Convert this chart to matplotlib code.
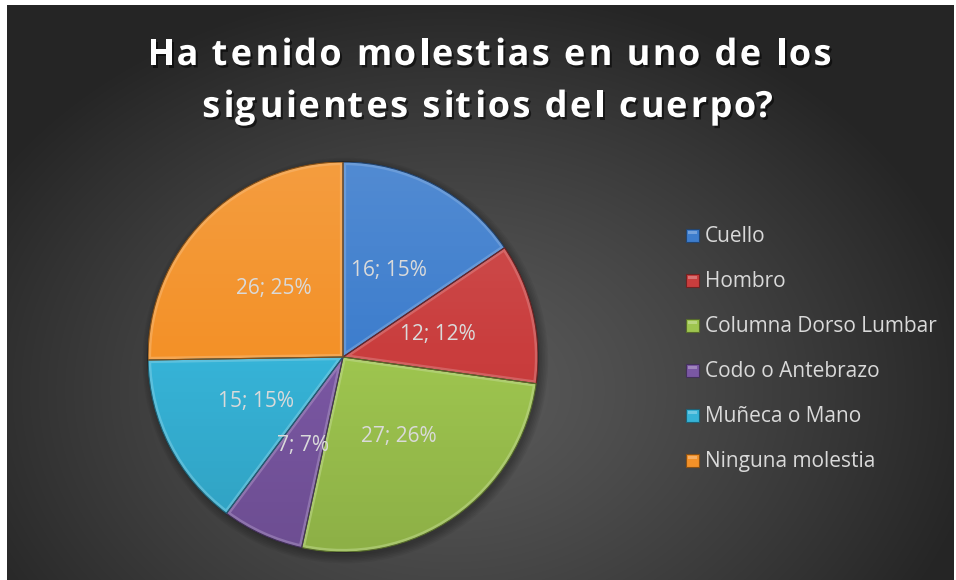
import numpy as np
import matplotlib
matplotlib.use("Agg")
import matplotlib.pyplot as plt
from matplotlib.patches import Wedge, Rectangle, Circle
import matplotlib.patheffects as pe
import matplotlib.colors as mcolors
from matplotlib.font_manager import FontProperties, findfont
from matplotlib.ft2font import FT2Font

# ---------------- data ----------------
title_lines = ["Ha tenido molestias en uno de los", "siguientes sitios del cuerpo?"]
categories = ["Cuello", "Hombro", "Columna Dorso Lumbar", "Codo o Antebrazo",
              "Muñeca o Mano", "Ninguna molestia"]
values = [16, 12, 27, 7, 15, 26]
percent_labels = [15, 12, 26, 7, 15, 25]
colors = ["#3d7dcd", "#c93d3d", "#9ec54f", "#7a57a3", "#36b3d7", "#f39128"]

FONT = "Open Sans"
W, H = 956, 580
fig = plt.figure(figsize=(W / 100, H / 100), dpi=100, facecolor="white")


def shade(c, f):
    r, g, b = mcolors.to_rgb(c)
    if f >= 0:
        return (r + (1 - r) * f, g + (1 - g) * f, b + (1 - b) * f)
    return (r * (1 + f), g * (1 + f), b * (1 + f))


# ---------------- background ----------------
x0, x1, y0, y1 = 7, 954, 5, 580
bg = fig.add_axes([x0 / W, (H - y1) / H, (x1 - x0) / W, (y1 - y0) / H])
bg.set_axis_off()
yy, xx = np.mgrid[y0:y1, x0:x1]
d = np.sqrt(((xx - 450) / 540.0) ** 2 + ((yy - 390) / 410.0) ** 2)
d = np.clip(d, 0, 1)
lum = (0x5b - (0x5b - 0x25) * d ** 1.2) / 255.0
bg.imshow(np.dstack([lum] * 3), extent=(0, 1, 0, 1), aspect="auto",
          origin="upper", interpolation="bilinear")
bg.set_xlim(0, 1)
bg.set_ylim(0, 1)

# ---------------- pie ----------------
cx, cy, R = 343, 357, 195
ax = fig.add_axes([(cx - R) / W, (H - cy - R) / H, 2 * R / W, 2 * R / H])
ax.set_axis_off()

# soft shadow
for k in range(6):
    sh = Circle((0.012, -0.018), 1.0 + 0.008 * k, facecolor="black",
                edgecolor="none", alpha=0.05, zorder=0, clip_on=False)
    ax.add_patch(sh)

wedges, _ = ax.pie(values, colors=colors, startangle=90, counterclock=False,
                   radius=1.0,
                   wedgeprops=dict(linewidth=0.8, edgecolor=(0, 0, 0, 0.35)))
ax.set_xlim(-1, 1)
ax.set_ylim(-1, 1)

# vertical light gradient over the pie
gy = np.linspace(0, 1, 256)[:, None]
grad = np.zeros((256, 2, 4))
grad[..., 0:3] = np.where(gy[..., None] < 0.5, 1.0, 0.0)
grad[..., 3] = np.abs(gy - 0.5) * 0.22
gimg = ax.imshow(grad, extent=(-1, 1, -1, 1), origin="upper", aspect="auto",
                 zorder=3, interpolation="bilinear")
clipc = Circle((0, 0), 1.0, transform=ax.transData)
gimg.set_clip_path(clipc)

# bevel highlights
for w, c in zip(wedges, colors):
    bev = Wedge(w.center, w.r, w.theta1, w.theta2, facecolor="none",
                edgecolor=shade(c, 0.35), linewidth=4.5, alpha=0.55, zorder=4)
    ax.add_patch(bev)
    bev.set_clip_path(w)
    edge = Wedge(w.center, w.r, w.theta1, w.theta2, facecolor="none",
                 edgecolor=shade(c, -0.45), linewidth=0.8, zorder=5)
    ax.add_patch(edge)

# data labels
for w, v, p in zip(wedges, values, percent_labels):
    th = np.deg2rad((w.theta1 + w.theta2) / 2.0)
    ax.text(0.5 * np.cos(th), 0.5 * np.sin(th), f"{v}; {p}%", ha="center",
            va="center", fontsize=15, color="#dadada", family=FONT, zorder=6)

# ---------------- legend ----------------
sq_x, sq = 686, 13
txt_x = 705
base0, dy = 242, 45
for i, (cat, col) in enumerate(zip(categories, colors)):
    yb = base0 + i * dy
    r = Rectangle((sq_x / W, (H - yb) / H), sq / W, sq / H, transform=fig.transFigure,
                  facecolor=col, edgecolor=shade(col, -0.45), linewidth=0.8)
    fig.add_artist(r)
    r2 = Rectangle(((sq_x + 2) / W, (H - yb + sq - 5) / H), (sq - 4) / W, 3 / H,
                   transform=fig.transFigure, facecolor=shade(col, 0.4),
                   edgecolor="none", alpha=0.7)
    fig.add_artist(r2)
    fig.text(txt_x / W, (H - yb) / H, cat, ha="left", va="baseline",
             fontsize=15, color="#d9d9d9", family=FONT)

# ---------------- title (letter spaced) ----------------
tsize = 26
fp = FontProperties(family=FONT, weight="bold", size=tsize)
ftf = FT2Font(findfont(fp), hinting_factor=1)
ftf.set_size(tsize, 100)


def glyph_metrics(s):
    adv, lsb = [], []
    for ch in s:
        g = ftf.load_char(ord(ch))
        adv.append(g.linearHoriAdvance / 65536.0)
        lsb.append(g.horiBearingX / 64.0)
    return adv, lsb


target_w1 = 828 - 147
adv1, lsb1 = glyph_metrics(title_lines[0])
nat1 = sum(adv1[:-1]) + 0.0
g_last = ftf.load_char(ord(title_lines[0][-1]))
nat1 = nat1 + g_last.width / 64.0 + lsb1[-1] - lsb1[0]
spacing = (target_w1 - nat1) / (len(title_lines[0]) - 1)

shadow = [pe.SimplePatchShadow(offset=(1.5, -1.8), shadow_rgbFace="black", alpha=0.55),
          pe.Normal()]
title_cx = 487
for line, base in zip(title_lines, [65, 117]):
    adv, lsb = glyph_metrics(line)
    total = sum(adv) + spacing * (len(line) - 1)
    pen = title_cx - total / 2.0
    for ch, a, l in zip(line, adv, lsb):
        if ch != " ":
            fig.text((pen + l) / W, (H - base) / H, ch, ha="left", va="baseline",
                     fontsize=tsize, fontweight="bold", color="white",
                     family=FONT, path_effects=shadow)
        pen += a + spacing

fig.savefig("out.png", dpi=100, facecolor="white")
